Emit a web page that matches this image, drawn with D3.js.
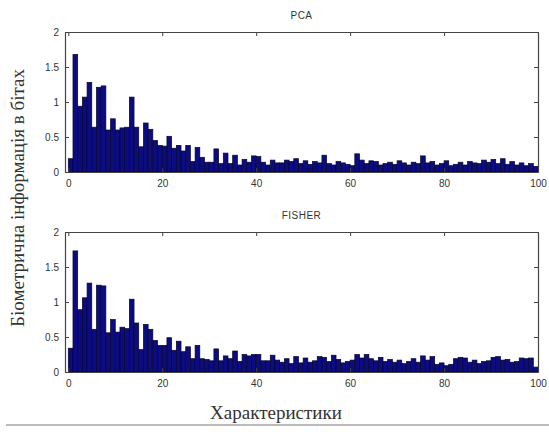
<!DOCTYPE html>
<html>
<head>
<meta charset="utf-8">
<script src="https://cdn.jsdelivr.net/npm/d3@7"></script>
<style>
  body { margin: 0; background: #fff; }
  svg text { fill: #333; }
</style>
</head>
<body>
<div id="chart"></div>
<script>
// feature index 0..99, one bar each
const features = d3.range(100);

const pcaValues = [
  0.19, 1.68, 0.94, 1.07, 1.28, 0.64, 1.21, 1.23, 0.60, 0.76,
  0.60, 0.63, 0.64, 1.07, 0.64, 0.36, 0.70, 0.61, 0.45, 0.38,
  0.37, 0.51, 0.34, 0.38, 0.30, 0.38, 0.15, 0.35, 0.21, 0.14,
  0.14, 0.33, 0.12, 0.27, 0.12, 0.24, 0.10, 0.18, 0.14, 0.23,
  0.22, 0.14, 0.10, 0.17, 0.13, 0.13, 0.17, 0.15, 0.19, 0.12,
  0.16, 0.11, 0.15, 0.13, 0.24, 0.12, 0.10, 0.15, 0.13, 0.11,
  0.09, 0.26, 0.17, 0.12, 0.16, 0.15, 0.10, 0.12, 0.14, 0.11,
  0.16, 0.13, 0.10, 0.14, 0.12, 0.23, 0.13, 0.15, 0.10, 0.12,
  0.16, 0.09, 0.11, 0.14, 0.10, 0.15, 0.13, 0.12, 0.17, 0.14,
  0.18, 0.12, 0.19, 0.11, 0.15, 0.10, 0.13, 0.09, 0.12, 0.08
];

const fisherValues = [
  0.34, 1.73, 0.89, 1.06, 1.27, 0.61, 1.24, 1.23, 0.56, 0.75,
  0.57, 0.64, 0.62, 1.04, 0.70, 0.32, 0.68, 0.61, 0.45, 0.38,
  0.38, 0.49, 0.31, 0.44, 0.29, 0.36, 0.19, 0.38, 0.19, 0.18,
  0.16, 0.33, 0.16, 0.23, 0.19, 0.30, 0.15, 0.25, 0.23, 0.25,
  0.25, 0.16, 0.16, 0.24, 0.17, 0.14, 0.19, 0.12, 0.22, 0.13,
  0.20, 0.14, 0.16, 0.22, 0.21, 0.15, 0.24, 0.18, 0.13, 0.15,
  0.17, 0.25, 0.20, 0.25, 0.19, 0.16, 0.21, 0.15, 0.18, 0.14,
  0.17, 0.12, 0.15, 0.19, 0.14, 0.23, 0.17, 0.22, 0.11, 0.13,
  0.09, 0.11, 0.19, 0.21, 0.20, 0.14, 0.17, 0.12, 0.15, 0.16,
  0.21, 0.22, 0.17, 0.18, 0.14, 0.15, 0.20, 0.19, 0.20, 0.07
];

const xTicks = [0, 20, 40, 60, 80, 100];
const yTicks = [0, 0.5, 1, 1.5, 2];

const panels = [
  { title: "PCA", values: pcaValues, top: 32 },
  { title: "FISHER", values: fisherValues, top: 232 }
];

const width = 549, height = 432;
const left = 65, right = 538, plotH = 140;

const svg = d3.select("#chart").append("svg")
  .attr("width", width)
  .attr("height", height);

const x = d3.scaleLinear().domain([-0.7, 100]).range([left, right]);

panels.forEach(p => {
  const y = d3.scaleLinear().domain([0, 2]).range([p.top + plotH, p.top]);
  const g = svg.append("g");

  // bars
  g.append("g")
    .selectAll("rect")
    .data(features)
    .enter()
    .append("rect")
    .attr("x", d => x(d))
    .attr("width", x(1) - x(0))
    .attr("y", d => y(p.values[d]))
    .attr("height", d => y(0) - y(p.values[d]))
    .attr("fill", "#0c0c80")
    .attr("stroke", "#05052a")
    .attr("stroke-width", 0.7);

  // axes, ticks inward like matlab
  const bottom = g.append("g")
    .attr("transform", "translate(0," + y(0) + ")")
    .call(d3.axisBottom(x).tickValues(xTicks).tickSize(-4).tickSizeOuter(0).tickPadding(8));
  const topAx = g.append("g")
    .attr("transform", "translate(0," + p.top + ")")
    .call(d3.axisTop(x).tickValues(xTicks).tickSize(-4).tickSizeOuter(0).tickFormat(""));
  const leftAx = g.append("g")
    .attr("transform", "translate(" + left + ",0)")
    .call(d3.axisLeft(y).tickValues(yTicks).tickSize(-4).tickSizeOuter(0).tickPadding(6)
      .tickFormat(d3.format("~g")));
  const rightAx = g.append("g")
    .attr("transform", "translate(" + right + ",0)")
    .call(d3.axisRight(y).tickValues(yTicks).tickSize(-4).tickSizeOuter(0).tickFormat(""));

  [bottom, topAx, leftAx, rightAx].forEach(a => {
    a.select(".domain").attr("stroke", "#444").attr("stroke-width", 1.2);
    a.selectAll(".tick line").attr("stroke", "#444");
    a.selectAll("text")
      .attr("font-family", "Liberation Sans, Arial, sans-serif")
      .attr("font-size", 10)
      .attr("fill", "#333");
  });

  g.append("text")
    .attr("x", (left + right) / 2)
    .attr("y", p.top - 13)
    .attr("text-anchor", "middle")
    .attr("font-family", "Liberation Sans, Arial, sans-serif")
    .attr("font-size", 10)
    .attr("letter-spacing", 0.5)
    .text(p.title);
});

// y label
svg.append("text")
  .attr("transform", "translate(24,198) rotate(-90)")
  .attr("text-anchor", "middle")
  .attr("font-family", "Liberation Serif, Times New Roman, serif")
  .attr("font-size", 19)
  .attr("fill", "#222")
  .text("Біометрична інформація в бітах");

// x label
svg.append("text")
  .attr("x", 276)
  .attr("y", 419)
  .attr("text-anchor", "middle")
  .attr("font-family", "Liberation Serif, Times New Roman, serif")
  .attr("font-size", 19)
  .attr("fill", "#222")
  .text("Характеристики");

// thin rule under the figure
svg.append("line")
  .attr("x1", 6).attr("x2", 549)
  .attr("y1", 425).attr("y2", 425)
  .attr("stroke", "#bbb")
  .attr("stroke-width", 2);
</script>
</body>
</html>
